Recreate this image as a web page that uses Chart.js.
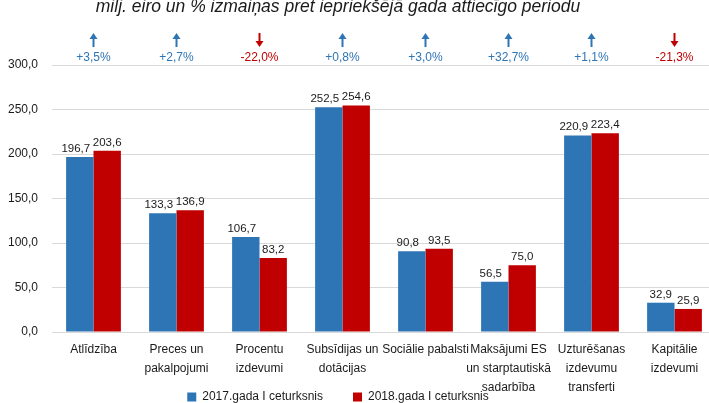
<!DOCTYPE html>
<html lang="lv">
<head>
  <meta charset="UTF-8">
  <title>Izdevumi</title>
  <script src="https://cdn.jsdelivr.net/npm/chart.js@4.4.1/dist/chart.umd.min.js"></script>
  <style>
    html, body { margin: 0; padding: 0; background: #fff; overflow: hidden; width: 709px; height: 403px; }
    #wrap { position: absolute; left: -40px; top: 0; }
  </style>
</head>
<body>
  <div id="wrap"><canvas id="chart" width="760" height="413"></canvas></div>
  <script>
    const titleText = 'milj. eiro un % izmaiņas pret iepriekšējā gada attiecīgo periodu';
    const categories = [
      ['Atlīdzība'],
      ['Preces un', 'pakalpojumi'],
      ['Procentu', 'izdevumi'],
      ['Subsīdijas un', 'dotācijas'],
      ['Sociālie pabalsti'],
      ['Maksājumi ES', 'un starptautiskā', 'sadarbība'],
      ['Uzturēšanas', 'izdevumu', 'transferti'],
      ['Kapitālie', 'izdevumi']
    ];
    const series2017 = [196.7, 133.3, 106.7, 252.5, 90.8, 56.5, 220.9, 32.9];
    const series2018 = [203.6, 136.9, 83.2, 254.6, 93.5, 75.0, 223.4, 25.9];
    const changes = [3.5, 2.7, -22.0, 0.8, 3.0, 32.7, 1.1, -21.3];
    const yTicks = [0, 50, 100, 150, 200, 250, 300];

    const BLUE = '#2E75B6', RED = '#C00000';
    const FONT = "'Liberation Sans', Arial, sans-serif";
    const fmt = v => v.toFixed(1).replace('.', ',');

    // value labels above bars + arrows with % change above the plot
    const annotate = {
      id: 'annotate',
      afterLayout(chart) {
        // let the multi-line category labels run down past the legend top
        chart.scales.x.bottom = chart.height;
      },
      afterDatasetsDraw(chart) {
        const ctx = chart.ctx;
        const top = chart.chartArea.top;
        const x = chart.scales.x;
        ctx.save();
        ctx.font = '11.5px ' + FONT;
        ctx.fillStyle = '#1a1a1a';
        ctx.textAlign = 'center';
        ctx.textBaseline = 'alphabetic';
        chart.data.datasets.forEach((ds, di) => {
          chart.getDatasetMeta(di).data.forEach((bar, i) => {
            const shift = di === 0 && series2017[i] > 50 ? -4 : 0;
            ctx.fillText(fmt(ds.data[i]), bar.x + shift, bar.y - 5);
          });
        });
        changes.forEach((c, i) => {
          const cx = x.getPixelForValue(i);
          const col = c >= 0 ? BLUE : RED;
          ctx.fillStyle = col;
          ctx.strokeStyle = col;
          ctx.lineWidth = 2;
          ctx.beginPath();
          if (c >= 0) {
            ctx.moveTo(cx, top - 18); ctx.lineTo(cx, top - 27);
            ctx.stroke();
            ctx.beginPath();
            ctx.moveTo(cx - 4, top - 26); ctx.lineTo(cx + 4, top - 26); ctx.lineTo(cx, top - 32);
          } else {
            ctx.moveTo(cx, top - 32); ctx.lineTo(cx, top - 23);
            ctx.stroke();
            ctx.beginPath();
            ctx.moveTo(cx - 4, top - 24); ctx.lineTo(cx + 4, top - 24); ctx.lineTo(cx, top - 18);
          }
          ctx.closePath();
          ctx.fill();
          ctx.font = '12px ' + FONT;
          ctx.textBaseline = 'middle';
          ctx.fillText((c >= 0 ? '+' : '') + fmt(c) + '%', cx, top - 7);
        });
        ctx.restore();
      }
    };

    new Chart(document.getElementById('chart'), {
      type: 'bar',
      data: {
        labels: categories,
        datasets: [
          { label: '2017.gada I ceturksnis', data: series2017, backgroundColor: BLUE },
          { label: '2018.gada I ceturksnis', data: series2018, backgroundColor: RED }
        ]
      },
      options: {
        responsive: false,
        animation: false,
        devicePixelRatio: 1,
        layout: { padding: { left: 0, right: 4, top: 0, bottom: 0 } },
        datasets: { bar: { categoryPercentage: 0.66, barPercentage: 1.0 } },
        plugins: {
          title: {
            display: true,
            text: titleText,
            color: '#1a1a1a',
            font: { family: FONT, size: 17.5, style: 'italic', weight: 'normal' },
            padding: { top: -3, bottom: 47 }
          },
          legend: {
            position: 'bottom',
            labels: {
              boxWidth: 9, boxHeight: 9, padding: 30,
              color: '#1a1a1a',
              font: { family: FONT, size: 12 }
            }
          },
          tooltip: { enabled: false }
        },
        scales: {
          x: {
            grid: { display: false },
            border: { display: false },
            ticks: {
              color: '#1a1a1a', padding: 0, maxRotation: 0, autoSkip: false,
              font: { family: FONT, size: 12, lineHeight: 1.58 }
            },
            afterFit(s) { s.height = 29; }
          },
          y: {
            min: 0, max: 300,
            afterBuildTicks(s) { s.ticks = yTicks.map(v => ({ value: v })); },
            grid: { color: '#d9d9d9', drawTicks: false },
            border: { display: false },
            ticks: {
              color: '#1a1a1a', padding: 14,
              font: { family: FONT, size: 12 },
              callback: v => fmt(v)
            },
            afterFit(s) { s.width = 92; }
          }
        }
      },
      plugins: [annotate]
    });
  </script>
</body>
</html>
